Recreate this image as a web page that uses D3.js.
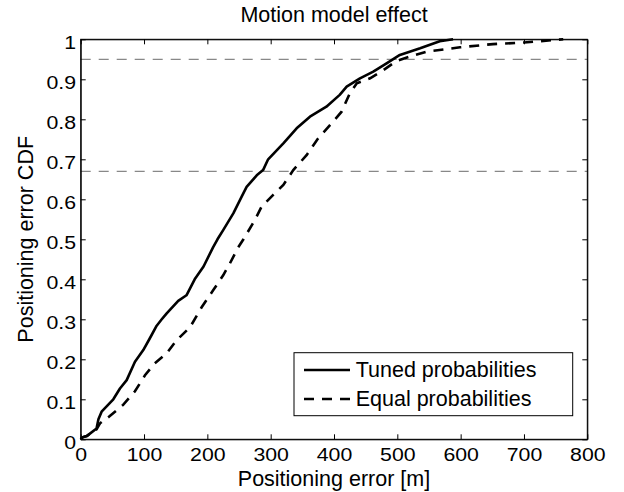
<!DOCTYPE html>
<html>
<head>
<meta charset="utf-8">
<script src="https://cdn.jsdelivr.net/npm/d3@7"></script>
<style>
  html, body { margin: 0; padding: 0; background: #fff; }
  svg { display: block; }
  text { font-family: "Liberation Sans", Arial, Helvetica, sans-serif; fill: #000; }
</style>
</head>
<body>
<svg id="chart" width="624" height="492"></svg>
<script>
// ---- data ----
const tunedX = [0, 3, 9.5, 25, 28, 33, 51.5, 62, 72.6, 85.7, 98.8, 109, 120, 128, 135.8, 154, 167, 180, 194, 209, 216, 225, 241, 254, 262, 278, 288, 296, 320, 341, 362, 388, 409, 420, 441, 462, 483, 504, 536, 567, 588];
const tunedY = [0, 0.005, 0.008, 0.027, 0.05, 0.069, 0.10, 0.127, 0.148, 0.194, 0.223, 0.252, 0.284, 0.30, 0.315, 0.346, 0.36, 0.40, 0.432, 0.48, 0.50, 0.523, 0.565, 0.606, 0.631, 0.66, 0.673, 0.70, 0.74, 0.7775, 0.8065, 0.8315, 0.861, 0.8815, 0.9025, 0.919, 0.94, 0.961, 0.9775, 0.995, 1.0];
const equalX = [0, 3, 9.5, 25, 30.5, 46, 67, 85.7, 101.5, 117, 135.8, 151.6, 172.6, 191, 209.4, 225, 235.7, 248.8, 257, 275, 285.8, 304, 320, 335.7, 357, 375, 394, 412, 425, 436, 457, 478, 499, 520, 546, 599, 651, 700, 762];
const equalY = [0, 0.005, 0.008, 0.025, 0.04, 0.058, 0.086, 0.12, 0.16, 0.19, 0.215, 0.248, 0.28, 0.33, 0.373, 0.41, 0.44, 0.48, 0.50, 0.548, 0.582, 0.611, 0.636, 0.673, 0.711, 0.7525, 0.786, 0.819, 0.865, 0.89, 0.9025, 0.923, 0.946, 0.957, 0.969, 0.98, 0.988, 0.992, 1.0];
const seriesNames = ["Tuned probabilities", "Equal probabilities"];
const refLevels = [0.95, 0.67];
const xTicks = [0, 100, 200, 300, 400, 500, 600, 700, 800];
const yTicks = [0, 0.1, 0.2, 0.3, 0.4, 0.5, 0.6, 0.7, 0.8, 0.9, 1];
const yTickLabels = ["0", "0.1", "0.2", "0.3", "0.4", "0.5", "0.6", "0.7", "0.8", "0.9", "1"];
const titleText = "Motion model effect";
const xLabel = "Positioning error [m]";
const yLabel = "Positioning error CDF";

// ---- layout ----
const mLeft = 80.7, mTop = 39.3, w = 506.6, h = 400;
const svg = d3.select("#chart");
const g = svg.append("g").attr("transform", `translate(${mLeft},${mTop})`);
const x = d3.scaleLinear().domain([0, 800]).range([0, w]);
const y = d3.scaleLinear().domain([0, 1]).range([h, 0]);

// background
g.append("rect").attr("width", w).attr("height", h).attr("fill", "#fff");

// reference lines
g.selectAll(".ref").data(refLevels).enter().append("line")
  .attr("x1", 0).attr("x2", w)
  .attr("y1", d => y(d)).attr("y2", d => y(d))
  .attr("stroke", "#888").attr("stroke-width", 1.2)
  .attr("stroke-dasharray", "10,8");

// curves
const line = d3.line().x(d => x(d[0])).y(d => y(d[1]));
const tuned = tunedX.map((v, i) => [v, tunedY[i]]);
const equal = equalX.map((v, i) => [v, equalY[i]]);
g.append("path").datum(tuned).attr("d", line)
  .attr("fill", "none").attr("stroke", "#000").attr("stroke-width", 2.6)
  .attr("stroke-linejoin", "round");
g.append("path").datum(equal).attr("d", line)
  .attr("fill", "none").attr("stroke", "#000").attr("stroke-width", 2.6)
  .attr("stroke-dasharray", "10,8");

// axes
const fs = 18.5, sx = 1.15;
const xa = g.append("g").attr("transform", `translate(0,${h})`)
  .call(d3.axisBottom(x).tickValues(xTicks).tickSizeInner(-5).tickSizeOuter(0).tickFormat(d3.format("d")));
xa.selectAll("text").attr("y", 0).attr("dy", null)
  .attr("transform", `translate(0,21.4) scale(${sx},1)`)
  .style("font-size", fs + "px").style("font-family", '"Liberation Sans", Arial, sans-serif');
const ya = g.append("g")
  .call(d3.axisLeft(y).tickValues(yTicks).tickSizeInner(-5).tickSizeOuter(0).tickFormat((d, i) => yTickLabels[i]));
ya.selectAll("text").attr("x", 0).attr("dy", null)
  .attr("transform", `translate(-4.7,8.7) scale(${sx},1)`)
  .style("font-size", fs + "px").style("font-family", '"Liberation Sans", Arial, sans-serif');
g.append("g")
  .call(d3.axisTop(x).tickValues(xTicks).tickSizeInner(-5).tickSizeOuter(0).tickFormat(""));
g.append("g").attr("transform", `translate(${w},0)`)
  .call(d3.axisRight(y).tickValues(yTicks).tickSizeInner(-5).tickSizeOuter(0).tickFormat(""));
g.selectAll(".domain").attr("stroke", "#000").attr("stroke-width", 1);
g.selectAll(".tick line").attr("stroke", "#000").attr("stroke-width", 1);

// frame
g.append("rect").attr("width", w).attr("height", h)
  .attr("fill", "none").attr("stroke", "#000").attr("stroke-width", 1);

// labels
svg.append("text").attr("x", mLeft + w / 2).attr("y", 21.7)
  .attr("text-anchor", "middle").style("font-size", "21.5px").text(titleText);
svg.append("text").attr("x", mLeft + w / 2).attr("y", 486)
  .attr("text-anchor", "middle").style("font-size", "21.5px").text(xLabel);
svg.append("text").attr("transform", `translate(33,${mTop + h / 2}) rotate(-90)`)
  .attr("text-anchor", "middle").style("font-size", "21.5px").text(yLabel);

// legend
const lg = svg.append("g");
lg.append("rect").attr("x", 294).attr("y", 352.7).attr("width", 278.7).attr("height", 63)
  .attr("fill", "#fff").attr("stroke", "#000").attr("stroke-width", 1);
const rows = [{ name: seriesNames[0], dash: null, ly: 370, ty: 377.3 },
              { name: seriesNames[1], dash: "10,8", ly: 399, ty: 405.7 }];
rows.forEach(r => {
  lg.append("line").attr("x1", 304).attr("x2", 350).attr("y1", r.ly).attr("y2", r.ly)
    .attr("stroke", "#000").attr("stroke-width", 2.6)
    .attr("stroke-dasharray", r.dash);
  lg.append("text").attr("x", 355.7).attr("y", r.ty).style("font-size", "21.5px").text(r.name);
});
</script>
</body>
</html>
